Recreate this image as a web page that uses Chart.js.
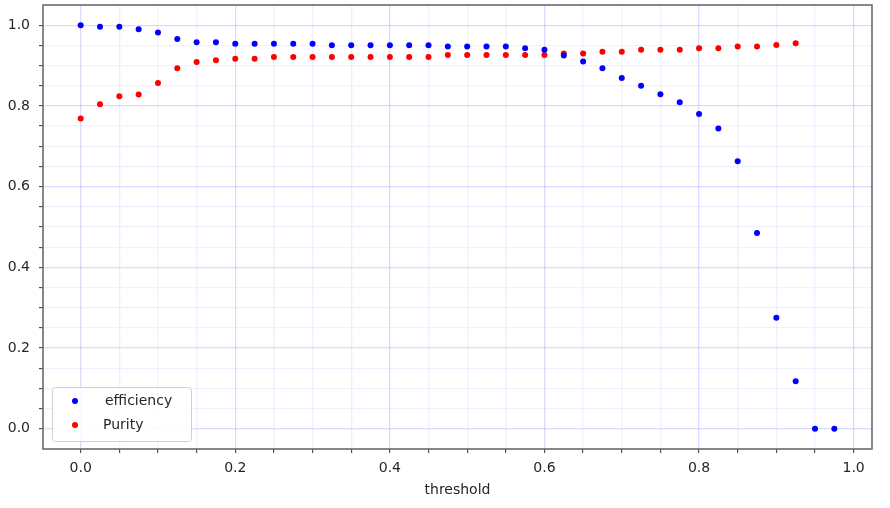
<!DOCTYPE html>
<html>
<head>
<meta charset="utf-8">
<script src="https://cdn.jsdelivr.net/npm/chart.js@4.4.1/dist/chart.umd.min.js"></script>
<style>
  html, body { margin: 0; padding: 0; background: #ffffff; }
  #wrap { width: 890px; height: 508px; position: relative; }
</style>
</head>
<body>
<div id="wrap"><canvas id="c" width="890" height="508"></canvas></div>
<script>
const thresholds = [0.0, 0.025, 0.05, 0.075, 0.1, 0.125, 0.15, 0.175, 0.2, 0.225,
  0.25, 0.275, 0.3, 0.325, 0.35, 0.375, 0.4, 0.425, 0.45, 0.475,
  0.5, 0.525, 0.55, 0.575, 0.6, 0.625, 0.65, 0.675, 0.7, 0.725,
  0.75, 0.775, 0.8, 0.825, 0.85, 0.875, 0.9, 0.925, 0.95, 0.975];

const efficiency = [1.0, 0.996, 0.996, 0.990, 0.982, 0.966, 0.958, 0.958, 0.954, 0.954,
  0.954, 0.954, 0.954, 0.950, 0.950, 0.950, 0.950, 0.950, 0.950, 0.947,
  0.947, 0.947, 0.947, 0.943, 0.939, 0.925, 0.910, 0.893, 0.869, 0.850,
  0.829, 0.809, 0.780, 0.744, 0.663, 0.485, 0.275, 0.118, 0.0, 0.0];

const purity = [0.769, 0.804, 0.824, 0.828, 0.857, 0.893, 0.909, 0.913, 0.917, 0.917,
  0.921, 0.921, 0.921, 0.921, 0.921, 0.921, 0.921, 0.921, 0.921, 0.926,
  0.926, 0.926, 0.926, 0.926, 0.926, 0.930, 0.930, 0.934, 0.934, 0.939,
  0.939, 0.939, 0.943, 0.943, 0.947, 0.947, 0.951, 0.955];

const xTickValues = [0, 0.05, 0.1, 0.15, 0.2, 0.25, 0.3, 0.35, 0.4, 0.45, 0.5,
  0.55, 0.6, 0.65, 0.7, 0.75, 0.8, 0.85, 0.9, 0.95, 1.0];
const yTickValues = [0, 0.05, 0.1, 0.15, 0.2, 0.25, 0.3, 0.35, 0.4, 0.45, 0.5,
  0.55, 0.6, 0.65, 0.7, 0.75, 0.8, 0.85, 0.9, 0.95, 1.0];
const seriesLabels = ['efficiency', 'Purity'];
const xTitle = 'threshold';

const FONT = 'DejaVu Sans';
const TEXT = '#262626';

function isMajor(v) { return Math.abs(v * 5 - Math.round(v * 5)) < 1e-6; }

function toPoints(xs, ys) { return ys.map((y, i) => ({ x: xs[i], y: y })); }

const framePlugin = {
  id: 'frame',
  afterDatasetsDraw(chart) {
    const { ctx, chartArea: a } = chart;
    ctx.save();
    ctx.strokeStyle = '#6a6a6a';
    ctx.lineWidth = 1.6;
    ctx.strokeRect(a.left, a.top, a.right - a.left, a.bottom - a.top);
    ctx.restore();
  }
};

const legendPlugin = {
  id: 'innerLegend',
  afterDraw(chart) {
    const ctx = chart.ctx;
    const x = 52.5, y = 387.5, w = 139, h = 54, r = 3;
    ctx.save();
    ctx.beginPath();
    ctx.moveTo(x + r, y);
    ctx.lineTo(x + w - r, y); ctx.quadraticCurveTo(x + w, y, x + w, y + r);
    ctx.lineTo(x + w, y + h - r); ctx.quadraticCurveTo(x + w, y + h, x + w - r, y + h);
    ctx.lineTo(x + r, y + h); ctx.quadraticCurveTo(x, y + h, x, y + h - r);
    ctx.lineTo(x, y + r); ctx.quadraticCurveTo(x, y, x + r, y);
    ctx.closePath();
    ctx.fillStyle = 'rgba(255,255,255,0.85)';
    ctx.fill();
    ctx.strokeStyle = '#d0d0d0';
    ctx.lineWidth = 1;
    ctx.stroke();
    const rows = [401, 425];
    chart.data.datasets.forEach((ds, i) => {
      ctx.beginPath();
      ctx.arc(75, rows[i], 3, 0, Math.PI * 2);
      ctx.fillStyle = ds.backgroundColor;
      ctx.fill();
      ctx.fillStyle = TEXT;
      ctx.font = '14px "' + FONT + '"';
      ctx.textBaseline = 'middle';
      ctx.textAlign = 'left';
      ctx.fillText(ds.label, i === 0 ? 105 : 103, rows[i]);
    });
    ctx.restore();
  }
};

function gridColor(c) {
  if (!c.tick) return 'rgba(0,0,0,0)';
  return isMajor(c.tick.value) ? 'rgba(90,90,255,0.22)' : 'rgba(90,90,255,0.09)';
}

new Chart(document.getElementById('c'), {
  type: 'scatter',
  data: {
    datasets: [
      { label: seriesLabels[0], data: toPoints(thresholds, efficiency),
        backgroundColor: '#0000ff', borderWidth: 0, pointRadius: 3, pointHoverRadius: 3 },
      { label: seriesLabels[1], data: toPoints(thresholds, purity),
        backgroundColor: '#ff0000', borderWidth: 0, pointRadius: 3, pointHoverRadius: 3 }
    ]
  },
  options: {
    responsive: false,
    animation: false,
    events: [],
    layout: { padding: { top: 5, right: 18, left: 0, bottom: 0 } },
    plugins: { legend: { display: false }, tooltip: { enabled: false }, title: { display: false } },
    scales: {
      x: {
        type: 'linear',
        min: -0.04875, max: 1.02375,
        afterBuildTicks(s) { s.ticks = xTickValues.map(v => ({ value: v })); },
        afterFit(s) { s.height = 59; s.paddingLeft = 0; s.paddingRight = 0; },
        border: { display: false },
        grid: { color: gridColor, lineWidth: 1.3, tickLength: 4, drawTicks: true,
                tickColor: '#333333', tickWidth: 1 },
        ticks: {
          autoSkip: false, maxRotation: 0, padding: 7, color: TEXT,
          font: { family: FONT, size: 14 },
          callback(v) { return isMajor(v) ? v.toFixed(1) : ''; }
        },
        title: { display: true, text: xTitle, color: TEXT,
                 font: { family: FONT, size: 14 }, padding: { top: 0, bottom: 9 } }
      },
      y: {
        type: 'linear',
        min: -0.05, max: 1.05,
        afterBuildTicks(s) { s.ticks = yTickValues.map(v => ({ value: v })); },
        afterFit(s) { s.width = 43; s.paddingTop = 0; s.paddingBottom = 0; },
        border: { display: false },
        grid: { color: gridColor, lineWidth: 1.3, tickLength: 4, drawTicks: true,
                tickColor: '#333333', tickWidth: 1 },
        ticks: {
          autoSkip: false, padding: 9, color: TEXT,
          font: { family: FONT, size: 14 },
          callback(v) { return isMajor(v) ? v.toFixed(1) : ''; }
        }
      }
    }
  },
  plugins: [framePlugin, legendPlugin]
});
</script>
</body>
</html>
